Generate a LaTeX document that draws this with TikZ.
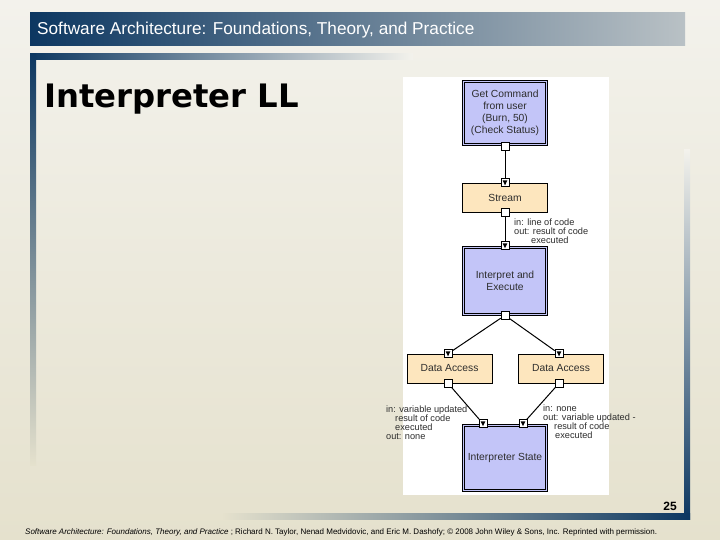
\documentclass[tikz,border=0pt]{standalone}
\usepackage{fontspec}
\setmainfont{Liberation Sans}
\newfontfamily\verd{DejaVu Sans}
\definecolor{navy}{RGB}{12,55,97}
\definecolor{navymid}{RGB}{45,85,120}
\definecolor{bgtop}{RGB}{243,242,236}
\definecolor{bgbot}{RGB}{229,225,205}
\definecolor{barlight}{RGB}{185,193,197}
\definecolor{bluebox}{RGB}{195,197,248}
\definecolor{peach}{RGB}{253,230,190}
\definecolor{txt}{RGB}{45,45,45}
\tikzset{
  compbox/.style={draw=black, line width=0.7pt, fill=bluebox, text=txt, align=center,
    inner sep=0pt, minimum width=85pt, font=\fontsize{10.3}{11.8}\selectfont,
    path picture={\draw[black, line width=0.6pt]
      ([xshift=2.2pt,yshift=-2.2pt]path picture bounding box.north west) rectangle
      ([xshift=-2.2pt,yshift=2.2pt]path picture bounding box.south east);}},
  connbox/.style={draw=black, line width=0.6pt, fill=peach, text=txt, align=center,
    inner sep=0pt, minimum width=85pt, minimum height=29pt, font=\fontsize{10.3}{11.8}\selectfont},
  outport/.style={draw=black, line width=0.5pt, fill=white, minimum size=8pt, inner sep=0pt},
  inport/.style={outport, path picture={
    \fill[black] ([xshift=1.6pt,yshift=-1.6pt]path picture bounding box.north west) --
      ([xshift=-1.6pt,yshift=-1.6pt]path picture bounding box.north east) --
      ([yshift=1.4pt]path picture bounding box.south) -- cycle;}},
  wire/.style={draw=black, line width=1pt},
  lbl/.style={align=left, inner sep=0pt, text=txt, font=\fontsize{9.2}{9}\selectfont}
}
\begin{document}
\begin{tikzpicture}[x=1pt,y=-1pt]
\useasboundingbox (0,0) rectangle (720,540);
\shade[top color=bgtop, bottom color=bgbot] (0,0) rectangle (720,540);
% title bar
\shade[left color=navy, middle color=navymid, right color=barlight] (30,13) rectangle (685,46);
\node[anchor=base west, inner sep=0pt, text=white, font=\fontsize{17.2}{19}\selectfont] (hdr) at (37,35) {Software Architecture: Foundations, Theory, and Practice};
% frame bars
\shade[left color=navy, middle color=navymid, right color=bgtop] (30,54) rectangle (413,60);
\shade[top color=navy, middle color=navymid, bottom color=bgbot] (30,54) rectangle (36,465);
\shade[top color=bgtop, middle color=navymid, bottom color=navy] (684,150) rectangle (690,519);
\shade[left color=bgbot, middle color=navymid, right color=navy] (223,513) rectangle (690,519);
% slide title
\node[anchor=base west, inner sep=0pt, font=\verd\bfseries\fontsize{32.3}{35}\selectfont] (ttl) at (44,108) {Interpreter LL};
% page number and footer
\node[anchor=base east, inner sep=0pt, font=\bfseries\fontsize{12}{14}\selectfont] (pg) at (677,510) {25};
\node[anchor=base west, inner sep=0pt, font=\fontsize{8}{9}\selectfont] (foot) at (25,534)
  {\textit{Software Architecture: Foundations, Theory, and Practice} ; Richard N. Taylor, Nenad Medvidovic, and Eric M. Dashofy; \textcopyright{} 2008 John Wiley \& Sons, Inc. Reprinted with permission.};
% diagram panel
\fill[white] (403,77) rectangle (609,495);
% components and connectors
\node[compbox, minimum height=65pt] (gc) at (505,113) {Get Command\\from user\\(Burn, 50)\\(Check Status)};
\node[connbox] (st) at (505,197.5) {Stream};
\node[compbox, minimum height=69pt] (ie) at (505,280.5) {Interpret and\\Execute};
\node[connbox] (dal) at (449.5,368.5) {Data Access};
\node[connbox] (dar) at (561,368.5) {Data Access};
\node[compbox, minimum height=67pt] (is) at (505,457.5) {Interpreter State};
% port positions
\coordinate (gcs) at (gc.south);
\coordinate (stn) at (st.north);
\coordinate (sts) at (st.south);
\coordinate (ien) at (ie.north);
\coordinate (ies) at (ie.south);
\coordinate (daln) at ([xshift=-1.5pt]dal.north);
\coordinate (darn) at ([xshift=-2pt]dar.north);
\coordinate (dals) at ([xshift=-1.5pt]dal.south);
\coordinate (dars) at ([xshift=-2pt]dar.south);
\coordinate (isn1) at ([xshift=-22pt]is.north);
\coordinate (isn2) at ([xshift=18pt]is.north);
\node[outport] (gc-o) at (gcs) {};
\node[inport] (st-i) at (stn) {};
\node[outport] (st-o) at (sts) {};
\node[inport] (ie-i) at (ien) {};
\node[outport] (ie-o) at (ies) {};
\node[inport] (dal-i) at (daln) {};
\node[inport] (dar-i) at (darn) {};
\node[outport] (dal-o) at (dals) {};
\node[outport] (dar-o) at (dars) {};
\node[inport] (is-i1) at (isn1) {};
\node[inport] (is-i2) at (isn2) {};
\draw[wire] (gc-o) -- (st-i);
\draw[wire] (st-o) -- (ie-i);
\draw[wire] (ie-o) -- (dal-i);
\draw[wire] (ie-o) -- (dar-i);
\draw[wire] (dal-o) -- (is-i1);
\draw[wire] (dar-o) -- (is-i2);
% labels
\node[lbl, anchor=north west] (lab1) at (514,219) {in: line of code\\out: result of code\\\hspace{17pt}executed};
\node[lbl, anchor=north west] (lab2) at (386,405.5) {in: variable updated\\\hspace{9pt}result of code\\\hspace{9pt}executed\\out: none};
\node[lbl, anchor=north west] (lab3) at (543,404.5) {in: none\\out: variable updated -\\\hspace{11pt}result of code\\\hspace{12pt}executed};
\end{tikzpicture}
\end{document}
